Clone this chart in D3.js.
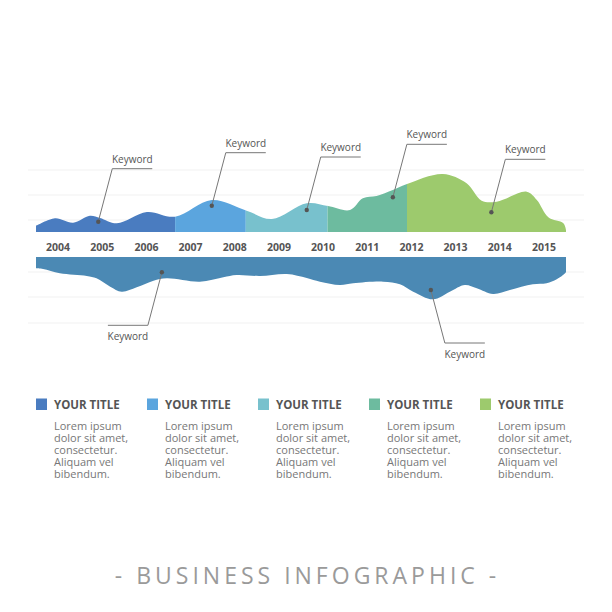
<!DOCTYPE html>
<html>
<head>
<meta charset="utf-8">
<script src="https://cdn.jsdelivr.net/npm/d3@7"></script>
<style>
  html, body { margin: 0; padding: 0; background: #fff; }
  svg { display: block; font-family: "Open Sans", sans-serif; }
</style>
</head>
<body>
<div id="chart"></div>
<script>
var svgWidth = 612;
var svgHeight = 612;

var years = [2004, 2005, 2006, 2007, 2008, 2009, 2010, 2011, 2012, 2013, 2014, 2015];

// upper wave: [year, height]
var topWave = [
  [2003.5, 6], [2003.93, 13.7], [2004.34, 9.3], [2004.72, 16.3], [2004.95, 14],
  [2005.33, 8.7], [2006.01, 20], [2006.65, 15.3], [2007.48, 32], [2008.27, 21.3],
  [2008.84, 13], [2009.63, 28.7], [2010.11, 26], [2010.61, 22], [2010.9, 33.7],
  [2011.21, 36], [2011.58, 42], [2011.9, 48], [2012.71, 58], [2013.25, 48.7],
  [2013.59, 31.3], [2013.93, 30.3], [2014.61, 40.3], [2014.84, 32], [2015.1, 14.7],
  [2015.44, 8.7], [2015.5, 2]
];

// lower wave: [year, depth]
var bottomWave = [
  [2003.5, 11.3], [2003.66, 12], [2004.04, 16.3], [2004.65, 19], [2004.87, 21.3],
  [2005.18, 29.7], [2005.44, 34.7], [2005.78, 30.3], [2006.16, 23.7], [2006.46, 21.3],
  [2007.21, 24.7], [2007.74, 20.3], [2008.04, 18], [2008.57, 19], [2009.18, 17],
  [2009.63, 21], [2009.93, 24.7], [2010.38, 28], [2010.68, 26.3], [2011.36, 24.7],
  [2011.74, 27.3], [2012.04, 34.7], [2012.49, 42.3], [2012.87, 34.7], [2013.21, 28],
  [2013.48, 31.3], [2013.85, 37], [2014.23, 33], [2014.75, 27.3], [2015.06, 26.3],
  [2015.29, 22.3], [2015.48, 16.3], [2015.5, 15]
];

// colour segments of the upper wave (year breaks)
var segmentBreaks = [2003.5, 2006.65, 2008.25, 2010.1, 2011.9, 2015.5];
var segmentColors = ["#4a7cc0", "#5ba5de", "#78c1cd", "#6dbb9f", "#9dca6d"];
var bottomColor = "#4b89b4";

var topGrid = [12, 37, 62];
var bottomGrid = [15, 40, 66];

// callouts: [year, value] on top, [year, depth, direction] below
var topCallouts = [[2004.91, 10.3], [2007.48, 26.3], [2009.63, 22], [2011.58, 34.7], [2013.81, 19.7]];
var bottomCallouts = [[2006.35, 15.3, -1], [2012.44, 33, 1]];
var calloutLabel = "Keyword";

var legendTitles = ["YOUR TITLE", "YOUR TITLE", "YOUR TITLE", "YOUR TITLE", "YOUR TITLE"];
var legendBody = ["Lorem ipsum", "dolor sit amet,", "consectetur.", "Aliquam vel", "bibendum."];
var footerTitle = "- BUSINESS INFOGRAPHIC -";

var svg = d3.select("#chart")
  .append("svg")
  .attr("width", svgWidth)
  .attr("height", svgHeight);

var x = d3.scaleLinear().domain([2003.5, 2015.5]).range([36, 566]);
var yTop = d3.scaleLinear().domain([0, 60]).range([232, 172]);
var yBot = d3.scaleLinear().domain([0, 60]).range([257, 317]);

// grid lines
svg.selectAll(".gridTop")
  .data(topGrid)
  .enter()
  .append("line")
  .attr("x1", 28).attr("x2", 584)
  .attr("y1", d => yTop(d)).attr("y2", d => yTop(d))
  .attr("stroke", "#f1f1f1")
  .attr("stroke-width", 1);

svg.selectAll(".gridBot")
  .data(bottomGrid)
  .enter()
  .append("line")
  .attr("x1", 28).attr("x2", 584)
  .attr("y1", d => yBot(d)).attr("y2", d => yBot(d))
  .attr("stroke", "#f1f1f1")
  .attr("stroke-width", 1);

var topArea = d3.area()
  .x(d => x(d[0]))
  .y0(yTop(0))
  .y1(d => yTop(d[1]))
  .curve(d3.curveCatmullRom);

var bottomArea = d3.area()
  .x(d => x(d[0]))
  .y0(yBot(0))
  .y1(d => yBot(d[1]))
  .curve(d3.curveCatmullRom);

var defs = svg.append("defs");
segmentColors.forEach(function(c, i) {
  defs.append("clipPath")
    .attr("id", "seg" + i)
    .append("rect")
    .attr("x", x(segmentBreaks[i]))
    .attr("width", x(segmentBreaks[i + 1]) - x(segmentBreaks[i]))
    .attr("y", 100)
    .attr("height", yTop(0) - 100);

  svg.append("path")
    .datum(topWave)
    .attr("d", topArea)
    .attr("fill", c)
    .attr("clip-path", "url(#seg" + i + ")");
});

svg.append("path")
  .datum(bottomWave)
  .attr("d", bottomArea)
  .attr("fill", bottomColor);

// year labels
svg.selectAll(".year")
  .data(years)
  .enter()
  .append("text")
  .attr("x", d => x(d))
  .attr("y", 250.5)
  .attr("text-anchor", "middle")
  .attr("font-size", "10.5px")
  .attr("font-weight", "bold")
  .attr("fill", "#555")
  .text(d => d);

// callouts
function callout(cx, cy, dir, up) {
  var ex = cx + 14 * dir;
  var ey = cy + (up ? -53 : 53);
  var hx = ex + 40 * dir;
  svg.append("polyline")
    .attr("points", [[cx, cy], [ex, ey], [hx, ey]].map(p => p.join(",")).join(" "))
    .attr("fill", "none")
    .attr("stroke", "#777")
    .attr("stroke-width", 1);
  svg.append("circle")
    .attr("cx", cx).attr("cy", cy).attr("r", 2.2)
    .attr("fill", "#555");
  svg.append("text")
    .attr("x", (ex + hx) / 2)
    .attr("y", up ? ey - 6 : ey + 15)
    .attr("text-anchor", "middle")
    .attr("font-size", "10px")
    .attr("fill", "#555")
    .text(calloutLabel);
}

topCallouts.forEach(d => callout(x(d[0]), yTop(d[1]), 1, true));
bottomCallouts.forEach(d => callout(x(d[0]), yBot(d[1]), d[2], false));

// legend
var legend = svg.selectAll(".legend")
  .data(legendTitles)
  .enter()
  .append("g")
  .attr("transform", (d, i) => `translate(${36 + i * 111}, 0)`);

legend.append("rect")
  .attr("x", 0).attr("y", 398.5)
  .attr("width", 11).attr("height", 11.5)
  .attr("fill", (d, i) => segmentColors[i]);

legend.append("text")
  .attr("x", 18).attr("y", 408.5)
  .attr("font-size", "11.5px")
  .attr("font-weight", "bold")
  .attr("fill", "#555")
  .text(d => d);

legend.each(function() {
  var g = d3.select(this);
  legendBody.forEach(function(line, j) {
    g.append("text")
      .attr("x", 18)
      .attr("y", 429.5 + j * 12.2)
      .attr("font-size", "11px")
      .attr("fill", "#777")
      .text(line);
  });
});

svg.append("text")
  .attr("x", 307.5)
  .attr("y", 584)
  .attr("text-anchor", "middle")
  .attr("font-size", "23px")
  .attr("letter-spacing", "4px")
  .attr("fill", "#9a9a9a")
  .text(footerTitle);
</script>
</body>
</html>
